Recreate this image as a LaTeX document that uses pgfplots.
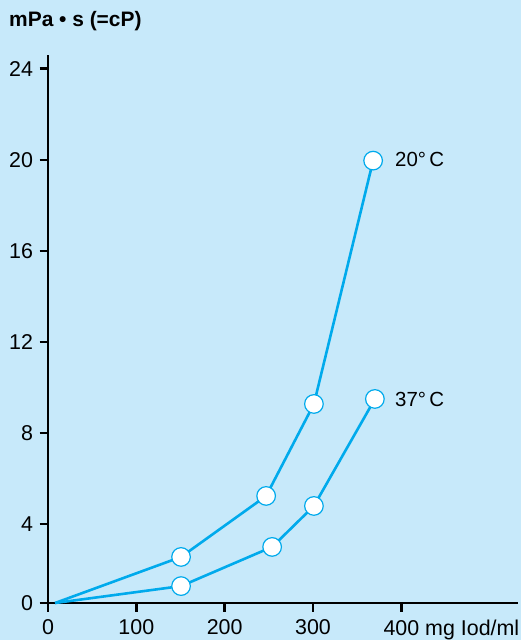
\documentclass[border=0pt]{standalone}
\usepackage{fontspec}
\setmainfont{Liberation Sans}
\usepackage{pgfplots}
\pgfplotsset{compat=1.18}
\definecolor{bgblue}{RGB}{199,233,250}
\definecolor{cyanline}{RGB}{0,170,236}
\begin{document}
\begin{tikzpicture}
\path[use as bounding box, fill=bgblue] (0,0) rectangle (521bp,640bp);
\node[anchor=base west, inner sep=0pt, font=\bfseries\fontsize{21}{24}\selectfont] at (9bp,613bp) {mPa • s (=cP)};
\begin{axis}[
  at={(48bp,37bp)}, anchor=south west,
  scale only axis, width=470bp, height=548bp,
  xmin=0, xmax=532, ymin=0.527, ymax=24.6,
  axis lines=left,
  axis line style={-, line width=2.6bp, black},
  every tick/.style={black, line width=2.4bp},
  tick align=outside,
  major tick length=8.5bp,
  xtick={0,100,200,300,400},
  xticklabels={0,100,200,300,{400\rlap{ mg Iod/ml}}},
  ytick={0.527,4,8,12,16,20,24},
  yticklabels={0,4,8,12,16,20,24},
  /pgf/number format/assume math mode=true,
  ticklabel style={font=\fontsize{21.5}{24}\selectfont},
  xticklabel style={yshift=-5bp},
  yticklabel style={xshift=-3bp},
  clip=false,
]
\addplot[cyanline, line width=2.6bp, mark=*, mark size=9.3bp, mark indices={2,3,4,5},
  mark options={fill=white, draw=cyanline, line width=1.2bp}]
  coordinates {(8,0.527) (150.6,2.55) (246.9,5.23) (301,9.27) (368,19.96)};
\addplot[cyanline, line width=2.6bp, mark=*, mark size=9.3bp, mark indices={2,3,4,5},
  mark options={fill=white, draw=cyanline, line width=1.2bp}]
  coordinates {(8,0.527) (150.6,1.27) (253.7,2.99) (301,4.79) (370,9.49)};
\node[anchor=base west, inner sep=0pt, font=\fontsize{20.5}{23}\selectfont] at (axis cs:392.8,19.69) {20°\,C};
\node[anchor=base west, inner sep=0pt, font=\fontsize{20.5}{23}\selectfont] at (axis cs:392.8,9.14) {37°\,C};
\end{axis}
\end{tikzpicture}
\end{document}
